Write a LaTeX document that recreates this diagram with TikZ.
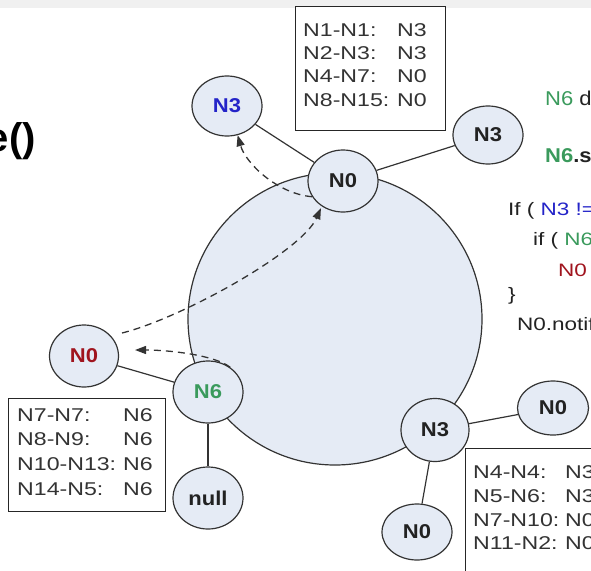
\documentclass[tikz,border=0pt]{standalone}
\usepackage{fontspec}
\setmainfont{Liberation Sans}
\newfontfamily\boxf{Liberation Sans}[FakeStretch=1.25]
\newfontfamily\nodef{Liberation Sans}[FakeStretch=1.1]
\usetikzlibrary{shapes.geometric,arrows.meta}
\definecolor{nfill}{HTML}{E5EBF5}
\definecolor{edge}{HTML}{333333}
\definecolor{idblue}{HTML}{2424C8}
\definecolor{idred}{HTML}{A0141E}
\definecolor{idgreen}{HTML}{3A9A5C}
\definecolor{txt}{HTML}{222222}
\begin{document}
\begin{tikzpicture}[x=1pt,y=-1pt,
  peer/.style={ellipse,draw=edge,line width=1.2pt,fill=nfill,minimum width=70pt,minimum height=60pt,inner sep=0pt,text=txt,font=\nodef\bfseries\fontsize{20}{22}\selectfont},
  link/.style={draw=edge,line width=1.2pt},
  hop/.style={draw=edge,line width=1.3pt,dash pattern=on 7pt off 5pt,-{Triangle[length=11pt,width=8pt]}},
  tbox/.style={draw=black!85,line width=1.2pt,fill=white},
  tline/.style={anchor=base west,inner sep=0pt,text=black!80,font=\boxf\fontsize{18.5}{21}\selectfont},
  code/.style={anchor=base west,inner sep=0pt,text=txt,font=\boxf\fontsize{18}{20}\selectfont},
  bigcode/.style={anchor=base west,inner sep=0pt,text=txt,font=\nodef\fontsize{20}{22}\selectfont},
]
\useasboundingbox (0,0) rectangle (591,570);
\fill[gray!12] (0,0) rectangle (591,8);

% ring
\node[ellipse,draw=edge,line width=1.2pt,fill=nfill,minimum width=294pt,minimum height=292pt,inner sep=0pt] (ring) at (335,319) {};

% title fragment
\node[anchor=base east,inner sep=0pt,text=black,font=\bfseries\fontsize{40}{44}\selectfont] (title) at (36,151) {e()};

% top table
\node[tbox,minimum width=150pt,minimum height=124pt,anchor=north west] (tabA) at (295,6) {};
\node[tline] (a1l) at (303,36) {N1-N1:};  \node[tline] (a1r) at (397,36) {N3};
\node[tline] (a2l) at (303,59) {N2-N3:};  \node[tline] (a2r) at (397,59) {N3};
\node[tline] (a3l) at (303,82) {N4-N7:};  \node[tline] (a3r) at (397,82) {N0};
\node[tline] (a4l) at (303,106) {N8-N15:}; \node[tline] (a4r) at (397,106) {N0};

% left table
\node[tbox,minimum width=157pt,minimum height=113pt,anchor=north west] (tabB) at (8,398) {};
\node[tline] (b1l) at (17,421) {N7-N7:};   \node[tline] (b1r) at (123,421) {N6};
\node[tline] (b2l) at (17,445) {N8-N9:};   \node[tline] (b2r) at (123,445) {N6};
\node[tline] (b3l) at (17,470) {N10-N13:}; \node[tline] (b3r) at (123,470) {N6};
\node[tline] (b4l) at (17,495) {N14-N5:};  \node[tline] (b4r) at (123,495) {N6};

% bottom-right table
\node[tbox,minimum width=150pt,minimum height=140pt,anchor=north west] (tabC) at (465,448) {};
\node[tline] (c1l) at (473,478) {N4-N4:};  \node[tline] (c1r) at (565,478) {N3};
\node[tline] (c2l) at (473,502) {N5-N6:};  \node[tline] (c2r) at (565,502) {N3};
\node[tline] (c3l) at (473,526) {N7-N10:}; \node[tline] (c3r) at (565,526) {N0};
\node[tline] (c4l) at (473,549) {N11-N2:}; \node[tline] (c4r) at (565,549) {N0};

% peers
\node[peer,text=idblue] (n3b) at (227,106) {N3};
\node[peer,minimum height=62pt] (n0t) at (343,181) {N0};
\node[peer,minimum height=58pt] (n3r) at (488,135) {N3};
\node[peer,minimum width=69pt,minimum height=62pt,text=idred] (n0r) at (84,356) {N0};
\node[peer,minimum height=62pt,text=idgreen] (n6) at (208,392) {N6};
\node[peer,minimum height=62pt] (nnull) at (208,498) {null};
\node[peer,minimum width=68pt,minimum height=63pt] (n3s) at (435,430) {N3};
\node[peer,minimum width=71pt,minimum height=54pt] (n0e) at (553,408) {N0};
\node[peer,minimum height=56pt] (n0s) at (417,532) {N0};

% solid links
\draw[link] (n3b) -- (n0t);
\draw[link] (n0t) -- (n3r);
\draw[link] (n0r) -- (n6);
\draw[link] (n6) -- (nnull);
\draw[link] (n3s) -- (n0e);
\draw[link] (n3s) -- (n0s);

% dashed hops
\coordinate (a2s) at (122,333);
\coordinate (a3e) at (135,350);
\draw[hop] (n0t.207) .. controls +(-35,-3) and +(8,28) .. (n3b.290);
\draw[hop,shorten >=2pt] (a2s) .. controls +(60,-15) and +(-20,45) .. (n0t.230);
\draw[hop] (n6.48) .. controls +(-15,-12) and +(35,0) .. (a3e);

% code on the right
\node[bigcode] (c1) at (545,105) {\textcolor{idgreen}{N6} d};
\node[bigcode,font=\nodef\bfseries\fontsize{20}{22}\selectfont] (c2) at (545,162) {\textcolor{idgreen}{N6}.s};
\node[code] (c3) at (508,215) {If ( \textcolor{idblue}{N3 !=}};
\node[code] (c4) at (533,245) {if ( \textcolor{idgreen}{N6}};
\node[code] (c5) at (558,276) {\textcolor{idred}{N0}};
\node[code] (c6) at (508,300) {\}};
\node[code] (c7) at (517,330) {N0.notif};
\end{tikzpicture}
\end{document}
